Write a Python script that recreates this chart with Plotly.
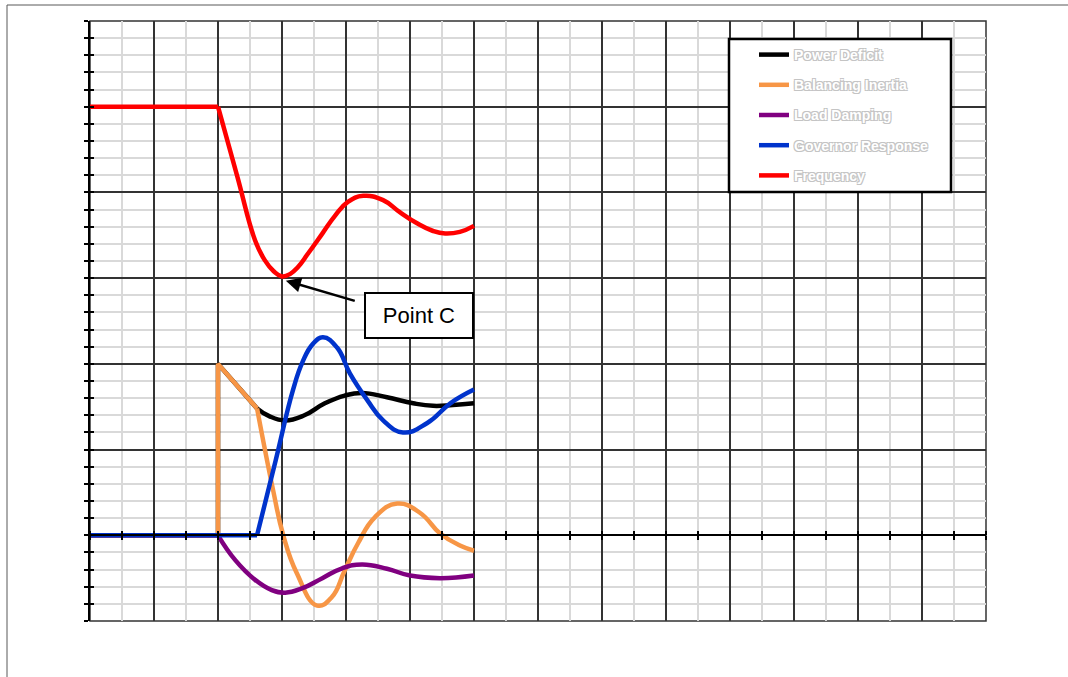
import plotly.graph_objects as go

# ---- data (x in time units, y in chart units) ----
freq_x = [0, 2.0, 2.3, 2.58, 2.73, 2.87, 3.0, 3.13, 3.25, 3.41, 3.63, 3.83, 4.03, 4.27, 4.58, 4.84, 5.11, 5.36, 5.55, 5.78, 6.0]
freq_y = [5.0, 5.0, 4.19, 3.44, 3.21, 3.08, 3.02, 3.05, 3.13, 3.29, 3.52, 3.73, 3.89, 3.96, 3.91, 3.77, 3.64, 3.55, 3.52, 3.54, 3.61]

deficit_x = [0, 2.0, 2.0, 2.61, 2.8, 3.05, 3.35, 3.67, 3.98, 4.25, 4.64, 5.05, 5.36, 5.67, 6.0]
deficit_y = [0, 0, 2.0, 1.48, 1.39, 1.34, 1.40, 1.54, 1.63, 1.66, 1.61, 1.54, 1.51, 1.52, 1.54]

inertia_x = [0, 2.0, 2.0, 2.61, 2.86, 3.02, 3.23, 3.55, 3.78, 3.98, 4.19, 4.45, 4.80, 5.16, 5.47, 5.78, 6.0]
inertia_y = [0, 0, 2.0, 1.48, 0.53, 0.0, -0.44, -0.82, -0.72, -0.41, -0.09, 0.21, 0.37, 0.26, 0.02, -0.12, -0.18]

damping_x = [0, 2.0, 2.27, 2.58, 2.84, 3.05, 3.31, 3.63, 3.94, 4.25, 4.64, 5.0, 5.47, 6.0]
damping_y = [0, 0, -0.29, -0.52, -0.64, -0.67, -0.62, -0.50, -0.385, -0.34, -0.39, -0.47, -0.50, -0.47]

governor_x = [0, 2.61, 2.9, 3.17, 3.32, 3.48, 3.64, 3.86, 4.06, 4.33, 4.58, 4.89, 5.27, 5.63, 6.0]
governor_y = [0, 0, 0.87, 1.69, 2.02, 2.23, 2.31, 2.19, 1.89, 1.58, 1.34, 1.20, 1.31, 1.54, 1.70]

# (name, x, y, colour, index where the smooth part starts)
series = [
    ("Power Deficit", deficit_x, deficit_y, "#000000", 3),
    ("Balancing Inertia", inertia_x, inertia_y, "#F79646", 3),
    ("Load Damping", damping_x, damping_y, "#800080", 1),
    ("Governor Response", governor_x, governor_y, "#0033CC", 1),
    ("Frequency", freq_x, freq_y, "#FF0000", 1),
]

X_RANGE = [0, 14]
Y_RANGE = [-1, 6]

fig = go.Figure()
for i, (name, xs, ys, col, k) in enumerate(series):
    # straight (step/ramp) part
    fig.add_trace(go.Scatter(
        x=xs[:k + 1], y=ys[:k + 1], name=name, mode="lines", legendgroup=f"g{i}",
        showlegend=True, line=dict(color=col, width=4.5, shape="linear"),
    ))
    # smooth oscillating part
    fig.add_trace(go.Scatter(
        x=xs[k:], y=ys[k:], name=name, mode="lines", legendgroup=f"g{i}",
        showlegend=False, line=dict(color=col, width=4.5, shape="spline", smoothing=1.3),
    ))

# helper invisible traces for the crossing tick axes
fig.add_trace(go.Scatter(x=[None], y=[None], xaxis="x2", yaxis="y", showlegend=False, hoverinfo="skip"))
fig.add_trace(go.Scatter(x=[None], y=[None], xaxis="x", yaxis="y2", showlegend=False, hoverinfo="skip"))

major = "#333333"
minor = "#D9D9D9"

fig.update_layout(
    width=1068, height=677,
    margin=dict(l=90, r=82, t=21, b=56),
    paper_bgcolor="white", plot_bgcolor="white",
    showlegend=True,
    xaxis=dict(range=X_RANGE, dtick=1, tick0=0, showticklabels=False,
               showgrid=True, gridcolor=major, gridwidth=1.5, zeroline=False,
               anchor="free", position=1/7, showline=True, linecolor="black", linewidth=2,
               ticks="outside", ticklen=4, tickwidth=2, tickcolor="black",
               minor=dict(dtick=0.5, showgrid=True, gridcolor=minor, gridwidth=1.5,
                          ticks="outside", ticklen=4, tickwidth=2, tickcolor="black")),
    xaxis2=dict(range=X_RANGE, dtick=0.5, overlaying="x", side="top", anchor="free", position=1/7,
                showticklabels=False, showgrid=False, zeroline=False, showline=False,
                ticks="outside", ticklen=4, tickwidth=2, tickcolor="black"),
    yaxis=dict(range=Y_RANGE, dtick=1, tick0=0, showticklabels=False,
               showgrid=True, gridcolor=major, gridwidth=1.5, zeroline=False,
               showline=True, linecolor="black", linewidth=2,
               ticks="outside", ticklen=4, tickwidth=2, tickcolor="black",
               minor=dict(dtick=0.2, showgrid=True, gridcolor=minor, gridwidth=1.5,
                          ticks="outside", ticklen=4, tickwidth=2, tickcolor="black")),
    yaxis2=dict(range=Y_RANGE, dtick=0.2, tick0=0, overlaying="y", side="left", anchor="x",
                showticklabels=False, showgrid=False, zeroline=False, showline=False,
                ticks="inside", ticklen=4, tickwidth=2, tickcolor="black"),
    legend=dict(x=(754 - 90) / 896, y=(621 - 39) / 600, xanchor="left", yanchor="top",
                bgcolor="rgba(0,0,0,0)", borderwidth=0, tracegroupgap=9,
                font=dict(family="Liberation Sans", size=14, color="white", weight="bold",
                          shadow="1px 1px 0 #c4c4c4, -1px -1px 0 #c4c4c4, 1px -1px 0 #c4c4c4, -1px 1px 0 #c4c4c4")),
    shapes=[
        # plot border
        dict(type="rect", xref="paper", yref="paper", x0=0, x1=1, y0=0, y1=1,
             line=dict(color=major, width=1.5), layer="between"),
        # legend box
        dict(type="rect", xref="paper", yref="paper",
             x0=(729 - 90) / 896, x1=(951 - 90) / 896,
             y0=(621 - 192) / 600, y1=(621 - 39) / 600,
             line=dict(color="black", width=2.5), fillcolor="white", layer="above"),
        # outer frame
        dict(type="rect", xref="paper", yref="paper",
             x0=(7 - 90) / 896, x1=(1090 - 90) / 896,
             y0=(621 - 700) / 600, y1=(621 - 5) / 600,
             line=dict(color="#595959", width=1), layer="above"),
    ],
    annotations=[
        dict(x=(418.5 - 90) / 64, y=(535 - 315) / 85.714, xref="x", yref="y",
             text="Point C", showarrow=False,
             font=dict(family="Liberation Sans", size=22, color="black"),
             bordercolor="black", borderwidth=2, borderpad=0, bgcolor="white",
             width=106, height=43),
        dict(x=3.06, y=2.97, xref="x", yref="y", ax=4.16, ay=2.73, axref="x", ayref="y",
             text="", showarrow=True, arrowhead=2, arrowsize=1.2, arrowwidth=2.5,
             arrowcolor="black"),
    ],
)

fig.write_html("out.html", config={"displayModeBar": False},
               post_script="document.body.style.margin='0';")
